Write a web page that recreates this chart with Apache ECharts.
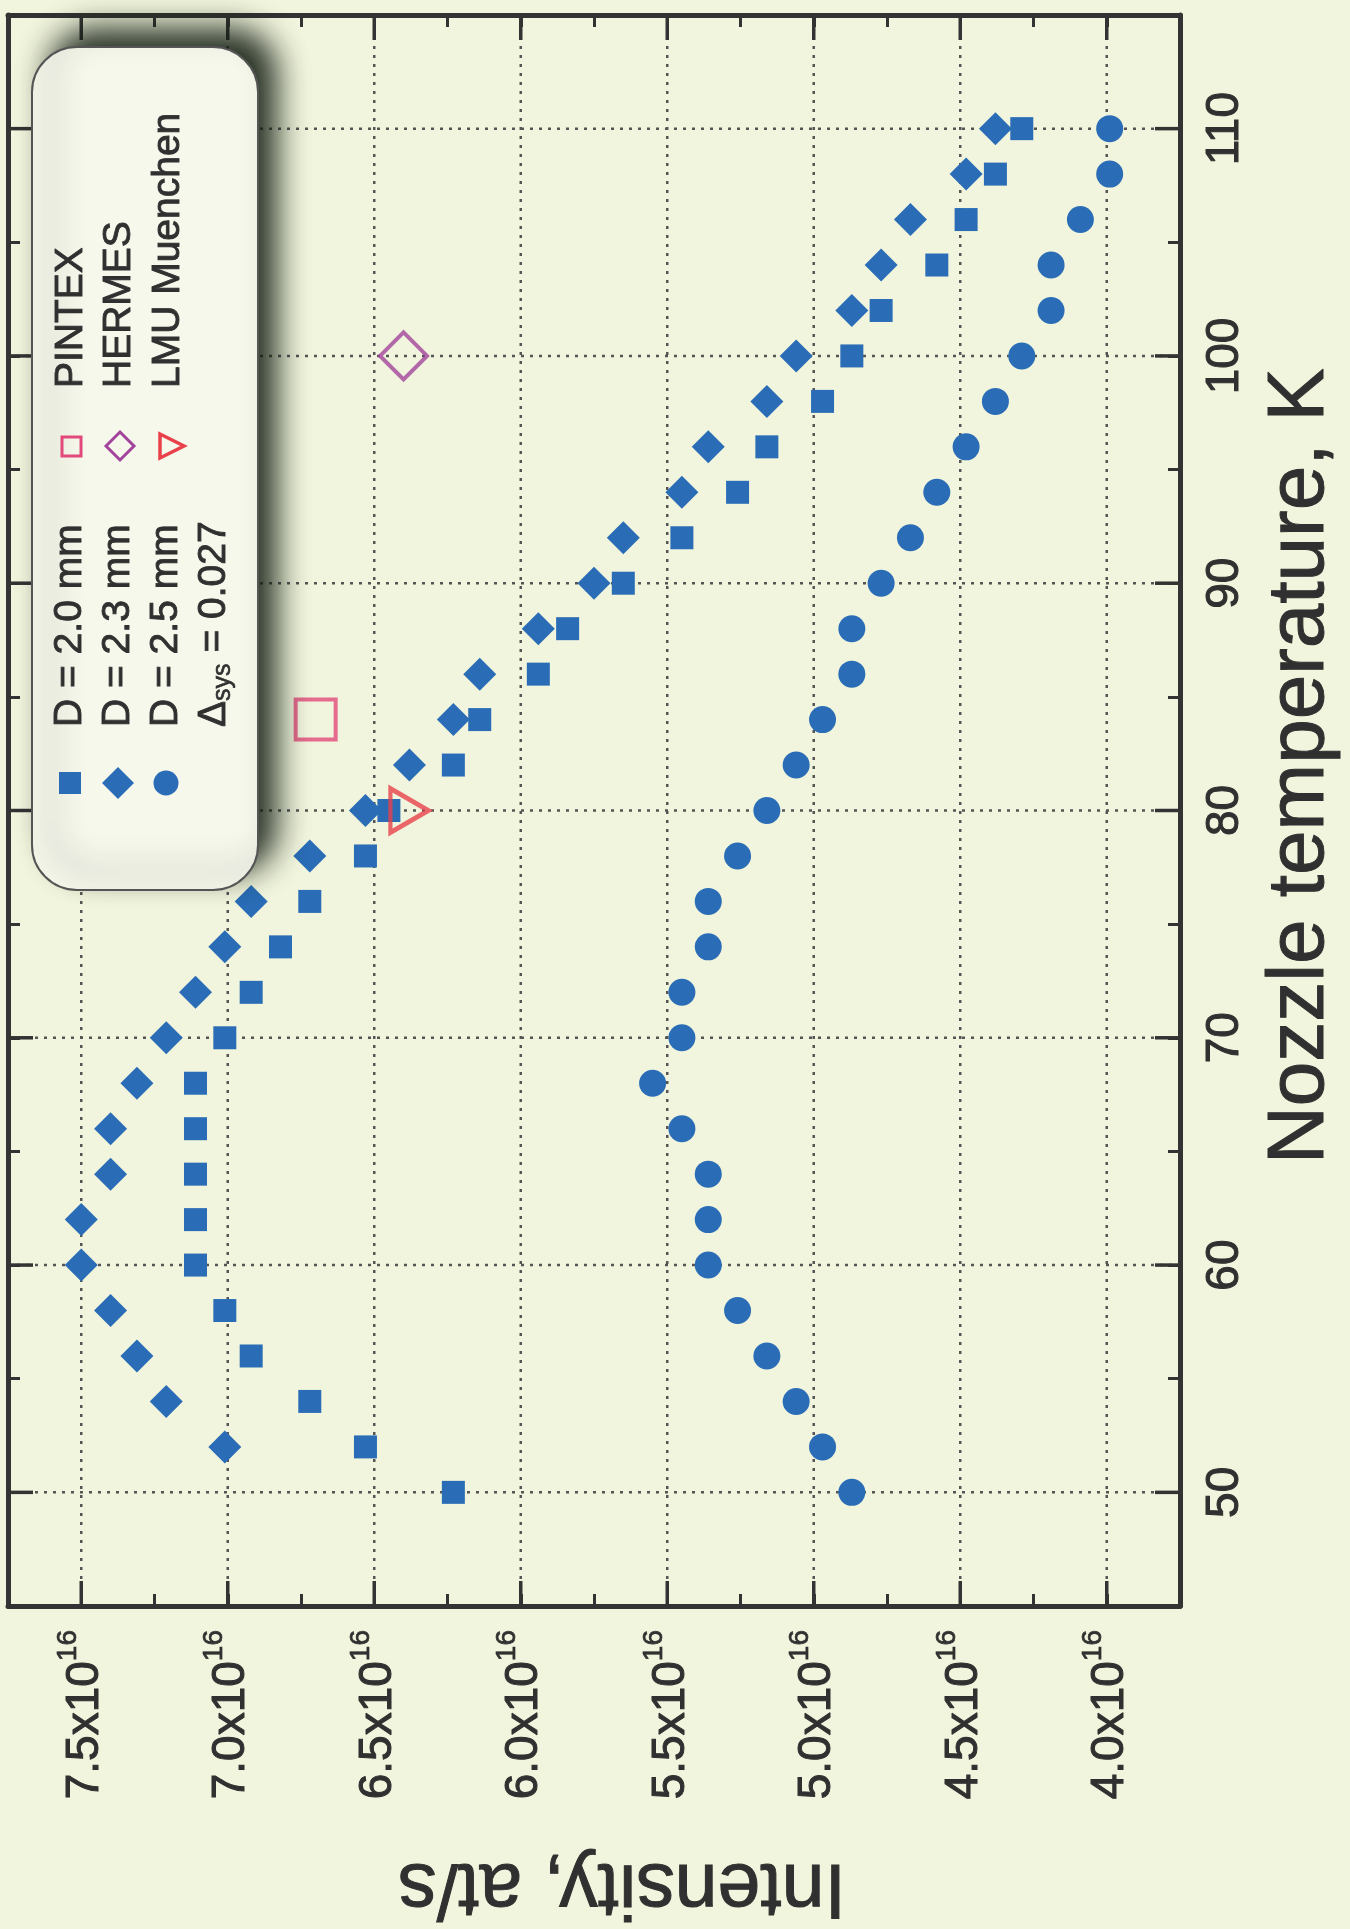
<!DOCTYPE html>
<html>
<head>
<meta charset="utf-8">
<script src="https://cdn.jsdelivr.net/npm/echarts@6/dist/echarts.min.js"></script>
<style>
  html, body { margin:0; padding:0; background:#f1f5dd; }
  #chart { width:1350px; height:1929px; }
</style>
</head>
<body>
<div id="chart"></div>
<script>
// ---- data (intensity in units of 1e16 at/s, temperature in K) ----
const temps = [50,52,54,56,58,60,62,64,66,68,70,72,74,76,78,80,82,84,86,88,90,92,94,96,98,100,102,104,106,108,110];
const intensityD20 = [6.23,6.53,6.72,6.92,7.01,7.11,7.11,7.11,7.11,7.11,7.01,6.92,6.82,6.72,6.53,6.45,6.23,6.14,5.94,5.84,5.65,5.45,5.26,5.16,4.97,4.87,4.77,4.58,4.48,4.38,4.29];
const tempsD23 = [52,54,56,58,60,62,64,66,68,70,72,74,76,78,80,82,84,86,88,90,92,94,96,98,100,102,104,106,108,110];
const intensityD23 = [7.01,7.21,7.31,7.40,7.50,7.50,7.40,7.40,7.31,7.21,7.11,7.01,6.92,6.72,6.53,6.38,6.23,6.14,5.94,5.75,5.65,5.45,5.36,5.16,5.06,4.87,4.77,4.67,4.48,4.38];
const intensityD25 = [4.87,4.97,5.06,5.16,5.26,5.36,5.36,5.36,5.45,5.55,5.45,5.45,5.36,5.36,5.26,5.16,5.06,4.97,4.87,4.87,4.77,4.67,4.58,4.48,4.38,4.29,4.19,4.19,4.09,3.99,3.99];
const pintexPoint = [6.70, 84];
const hermesPoint = [6.40, 100];
const lmuPoint = [6.38, 80];
// tick labels
const intensityTicks = [4.0,4.5,5.0,5.5,6.0,6.5,7.0,7.5];
const tempTicks = [50,60,70,80,90,100,110];
const I_MIN = 3.75, I_MAX = 7.75, T_MIN = 45, T_MAX = 115;

const FONT = 'Liberation Sans, Arial, Helvetica, sans-serif';
const TXT = '#303030';
const AX = '#333333';
const GRID = '#555555';
const BLUE = '#2a6db6';

function pairs(xs, ts){ return ts.map((t,i)=>[xs[i], t]); }

function isMajorI(v){ return Math.abs(v*2 - Math.round(v*2)) < 1e-6; }

function renderIGrid(params, api){
  const v = api.value(0);
  const a = api.coord([v, T_MIN]);
  const b = api.coord([v, T_MAX]);
  return {type:'group', children:[
    {type:'line', shape:{x1:a[0],y1:a[1],x2:b[0],y2:b[1]}, style:{stroke:GRID,lineWidth:2.5,lineDash:[3,6]}},
    {type:'line', shape:{x1:a[0],y1:a[1],x2:a[0],y2:a[1]-25}, style:{stroke:AX,lineWidth:3.5}},
    {type:'line', shape:{x1:b[0],y1:b[1],x2:b[0],y2:b[1]+25}, style:{stroke:AX,lineWidth:3.5}}
  ]};
}
function renderTGrid(params, api){
  const t = api.value(1);
  const a = api.coord([I_MAX, t]); // left side (inverse axis)
  const b = api.coord([I_MIN, t]); // right side
  return {type:'group', children:[
    {type:'line', shape:{x1:a[0],y1:a[1],x2:b[0],y2:b[1]}, style:{stroke:GRID,lineWidth:2.5,lineDash:[3,6]}},
    {type:'line', shape:{x1:a[0],y1:a[1],x2:a[0]+25,y2:a[1]}, style:{stroke:AX,lineWidth:3.5}},
    {type:'line', shape:{x1:b[0],y1:b[1],x2:b[0]-25,y2:b[1]}, style:{stroke:AX,lineWidth:3.5}}
  ]};
}

const axisCommon = {
  type:'value',
  axisLine:{show:true, onZero:false, lineStyle:{color:AX, width:5}},
  axisTick:{show:true, inside:true, length:12, lineStyle:{color:AX, width:3}},
  splitLine:{show:false}
};

const chart = echarts.init(document.getElementById('chart'), null, {renderer:'canvas'});

const LZ = 110;
const LSTYLE = {font:'39px '+FONT, fill:TXT, stroke:TXT, lineWidth:0.9, verticalAlign:'middle'};
function ltext(x, y, s){ return {type:'text', z:LZ+1, x:x, y:y, style:Object.assign({text:s}, LSTYLE)}; }

// legend (drawn in the original landscape frame, rotated 90° CCW)
const legendChildren = [
  {type:'rect', z:LZ, shape:{x:0,y:0,width:843,height:226,r:45},
   style:{fill:'#f6f8ec', stroke:'#555', lineWidth:2, shadowBlur:30, shadowColor:'rgba(20,30,20,0.9)', shadowOffsetX:18, shadowOffsetY:-18}},
  {type:'rect', z:LZ+1, shape:{x:96,y:27,width:22,height:22}, style:{fill:BLUE}},
  {type:'polygon', z:LZ+1, shape:{points:[[107,70],[123,86],[107,102],[91,86]]}, style:{fill:BLUE}},
  {type:'circle', z:LZ+1, shape:{cx:107,cy:134,r:12.5}, style:{fill:BLUE}},
  ltext(163, 38, 'D = 2.0 mm'),
  ltext(163, 86, 'D = 2.3 mm'),
  ltext(163, 134, 'D = 2.5 mm'),
  {type:'text', z:LZ+1, x:163, y:183, style:{text:'{m|Δ}{s|sys}{m| = 0.027}', verticalAlign:'middle',
     rich:{m:{fontSize:39, fontFamily:FONT, fill:TXT, stroke:TXT, lineWidth:0.9, verticalAlign:'top'},
           s:{fontSize:25, fontFamily:FONT, fill:TXT, stroke:TXT, lineWidth:0.6, verticalAlign:'bottom', padding:[16,0,0,0]}}}},
  {type:'rect', z:LZ+1, shape:{x:434,y:30,width:19,height:19}, style:{fill:'none', stroke:'#e2487c', lineWidth:3}},
  {type:'polygon', z:LZ+1, shape:{points:[[444,74],[458,88],[444,102],[430,88]]}, style:{fill:'none', stroke:'#a3449c', lineWidth:3}},
  {type:'polygon', z:LZ+1, shape:{points:[[432,128],[456,128],[444,152]]}, style:{fill:'none', stroke:'#e8414b', lineWidth:3.5}},
  ltext(502, 39, 'PINTEX'),
  ltext(502, 87, 'HERMES'),
  ltext(502, 136, 'LMU Muenchen')
];

const option = {
  backgroundColor:'#f1f5dd',
  animation:false,
  grid:{left:8, top:15, width:1172, height:1591, containLabel:false},
  xAxis:[
    Object.assign({}, axisCommon, {
      position:'bottom', min:I_MIN, max:I_MAX, interval:0.25, inverse:true,
      axisLabel:{rotate:90, margin:24, color:TXT,
        formatter:function(v){ return isMajorI(v) ? '{b|'+v.toFixed(1)+'x10}{s|16}' : ''; },
        rich:{
          b:{fontSize:46, fontFamily:FONT, color:TXT, textBorderColor:TXT, textBorderWidth:1, padding:[8,0,0,0], verticalAlign:'bottom'},
          s:{fontSize:28, fontFamily:FONT, color:TXT, textBorderColor:TXT, textBorderWidth:0.7, verticalAlign:'top'}
        }}
    }),
    Object.assign({}, axisCommon, {
      position:'top', min:I_MIN, max:I_MAX, interval:0.25, inverse:true, axisLabel:{show:false}
    })
  ],
  yAxis:[
    Object.assign({}, axisCommon, {
      position:'right', min:T_MIN, max:T_MAX, interval:5,
      axisLabel:{rotate:90, margin:22, fontSize:46, fontFamily:FONT, color:TXT, textBorderColor:TXT, textBorderWidth:1,
        formatter:function(v){ return (v % 10 === 0) ? String(v) : ''; }}
    }),
    Object.assign({}, axisCommon, {
      position:'left', min:T_MIN, max:T_MAX, interval:5, axisLabel:{show:false}
    })
  ],
  graphic:[
    {type:'text', x:1301, y:766, rotation:Math.PI/2, z:100,
     style:{text:'Nozzle temperature, K', font:'80px '+FONT, fill:TXT, stroke:TXT, lineWidth:1, align:'center', verticalAlign:'middle'}},
    {type:'text', x:622, y:1886, rotation:Math.PI, z:100,
     style:{text:'Intensity, at/s', font:'77px '+FONT, fill:TXT, stroke:TXT, lineWidth:1, align:'center', verticalAlign:'middle'}},
    {type:'group', x:32, y:890, rotation:Math.PI/2, z:LZ, children:legendChildren}
  ],
  series:[
    {type:'custom', name:'gridI', silent:true, z:1, renderItem:renderIGrid,
     data:intensityTicks.map(v=>[v, T_MIN])},
    {type:'custom', name:'gridT', silent:true, z:1, renderItem:renderTGrid,
     data:tempTicks.map(t=>[I_MIN, t])},
    {type:'scatter', name:'D = 2.0 mm', z:3, symbol:'rect', symbolSize:23,
     itemStyle:{color:BLUE, opacity:1}, data:pairs(intensityD20, temps)},
    {type:'scatter', name:'D = 2.3 mm', z:3, symbol:'diamond', symbolSize:33,
     itemStyle:{color:BLUE, opacity:1}, data:pairs(intensityD23, tempsD23)},
    {type:'scatter', name:'D = 2.5 mm', z:3, symbol:'circle', symbolSize:27,
     itemStyle:{color:BLUE, opacity:1}, data:pairs(intensityD25, temps)},
    {type:'scatter', name:'PINTEX', z:4, symbol:'rect', symbolSize:40,
     itemStyle:{color:'rgba(0,0,0,0)', borderColor:'#e2487c', borderWidth:4}, data:[pintexPoint]},
    {type:'scatter', name:'HERMES', z:4, symbol:'diamond', symbolSize:47,
     itemStyle:{color:'rgba(0,0,0,0)', borderColor:'#a3449c', borderWidth:4}, data:[hermesPoint]},
    {type:'scatter', name:'LMU Muenchen', z:4, symbol:'triangle', symbolSize:[44,38], symbolRotate:-90,
     itemStyle:{color:'rgba(0,0,0,0)', borderColor:'#e8414b', borderWidth:4.5}, data:[lmuPoint]}
  ]
};
chart.setOption(option);
</script>
</body>
</html>
